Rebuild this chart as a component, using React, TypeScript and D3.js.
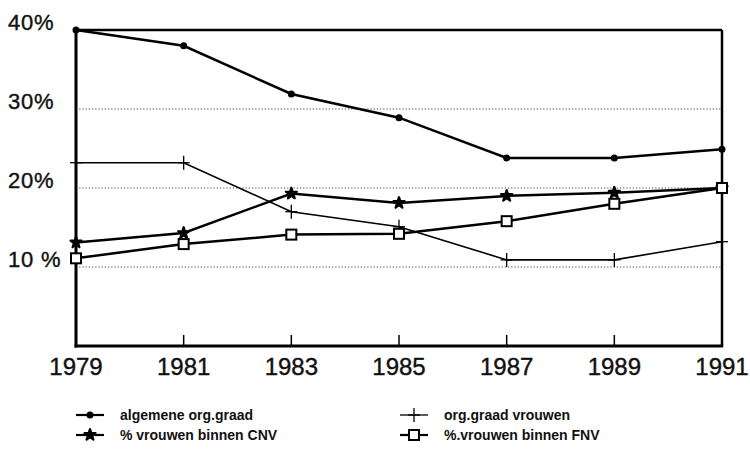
import React, { useEffect, useRef } from "react";
import * as d3 from "d3";

// years on the x axis
const years = [1979, 1981, 1983, 1985, 1987, 1989, 1991];

// percentages per series
const algemeneOrgGraad = [40.0, 38.0, 31.9, 28.9, 23.8, 23.8, 24.9];
const orgGraadVrouwen = [23.2, 23.2, 17.0, 15.1, 10.9, 10.9, 13.2];
const vrouwenCNV = [13.1, 14.3, 19.3, 18.1, 19.0, 19.4, 20.0];
const vrouwenFNV = [11.1, 12.9, 14.1, 14.2, 15.8, 18.0, 20.0];

const yTicks = [10, 20, 30, 40];
const yTickLabels = ["10 %", "20%", "30%", "40%"];

const seriesNames = [
    "algemene org.graad",
    "org.graad vrouwen",
    "% vrouwen binnen CNV",
    "%.vrouwen binnen FNV",
];
const seriesMarkers = ["dot", "cross", "star", "square"];

const width = 750;
const height = 450;

function drawMarker(g, type, x, y) {
    if (type === "dot") {
        g.append("circle").attr("cx", x).attr("cy", y).attr("r", 3.5).attr("fill", "#000");
    } else if (type === "cross") {
        g.append("line").attr("x1", x - 6).attr("x2", x + 6).attr("y1", y).attr("y2", y)
            .attr("stroke", "#000").attr("stroke-width", 1.3);
        g.append("line").attr("x1", x).attr("x2", x).attr("y1", y - 7).attr("y2", y + 7)
            .attr("stroke", "#000").attr("stroke-width", 1.3);
    } else if (type === "star") {
        g.append("path")
            .attr("d", d3.symbol().type(d3.symbolStar).size(38)())
            .attr("transform", `translate(${x},${y})`)
            .attr("fill", "#000")
            .attr("stroke", "#000")
            .attr("stroke-width", 2.2)
            .attr("stroke-linejoin", "round");
    } else if (type === "square") {
        g.append("rect").attr("x", x - 5).attr("y", y - 5).attr("width", 10).attr("height", 10)
            .attr("fill", "#fff").attr("stroke", "#000").attr("stroke-width", 2);
    }
}

function App() {
    const ref = useRef(null);

    useEffect(() => {
        const svg = d3.select(ref.current);
        svg.selectAll("*").remove();

        const left = 76, right = 722, top = 30, bottom = 346;

        const x = d3.scaleLinear().domain([1979, 1991]).range([left, right]);
        const y = d3.scaleLinear().domain([0, 40]).range([bottom, top]);

        svg.append("rect").attr("width", width).attr("height", height).attr("fill", "#fff");

        // dotted gridlines
        svg.append("g")
            .selectAll("line")
            .data(yTicks.filter(t => t < 40))
            .join("line")
            .attr("x1", left)
            .attr("x2", right)
            .attr("y1", d => y(d))
            .attr("y2", d => y(d))
            .attr("stroke", "#444")
            .attr("stroke-width", 1)
            .attr("stroke-dasharray", "1.2,2");

        // frame
        svg.append("line").attr("x1", left).attr("x2", right).attr("y1", top).attr("y2", top)
            .attr("stroke", "#000").attr("stroke-width", 2.5);
        svg.append("line").attr("x1", right).attr("x2", right).attr("y1", top).attr("y2", bottom)
            .attr("stroke", "#000").attr("stroke-width", 2.5);
        svg.append("line").attr("x1", left).attr("x2", left).attr("y1", top - 1).attr("y2", bottom + 1.5)
            .attr("stroke", "#000").attr("stroke-width", 3);
        svg.append("line").attr("x1", left - 1.5).attr("x2", right + 1.2).attr("y1", bottom).attr("y2", bottom)
            .attr("stroke", "#000").attr("stroke-width", 3);

        // x ticks (pointing inward)
        svg.append("g")
            .selectAll("line")
            .data(years.slice(1, -1))
            .join("line")
            .attr("x1", d => x(d))
            .attr("x2", d => x(d))
            .attr("y1", bottom)
            .attr("y2", bottom - 11)
            .attr("stroke", "#000")
            .attr("stroke-width", 1.5);

        // y labels
        svg.append("g")
            .selectAll("text")
            .data(yTicks)
            .join("text")
            .attr("x", 8)
            .attr("y", d => y(d))
            .attr("font-family", "Liberation Sans, Arial, sans-serif")
            .attr("font-size", 22)
            .attr("letter-spacing", 0.8)
            .attr("fill", "#111")
            .attr("stroke", "#111")
            .attr("stroke-width", 0.4)
            .text((d, i) => yTickLabels[i]);

        // x labels
        svg.append("g")
            .selectAll("text")
            .data(years)
            .join("text")
            .attr("x", d => x(d))
            .attr("y", 375)
            .attr("text-anchor", "middle")
            .attr("font-family", "Liberation Sans, Arial, sans-serif")
            .attr("font-size", 24)
            .attr("fill", "#111")
            .attr("stroke", "#111")
            .attr("stroke-width", 0.4)
            .text(d => d);

        const allSeries = [algemeneOrgGraad, orgGraadVrouwen, vrouwenCNV, vrouwenFNV];
        const line = d3.line()
            .x((_, i) => x(years[i]))
            .y(d => y(d));

        allSeries.forEach((values, s) => {
            svg.append("path")
                .datum(values)
                .attr("fill", "none")
                .attr("stroke", "#000")
                .attr("stroke-width", s === 1 ? 1.6 : 2.5)
                .attr("d", line);
        });
        allSeries.forEach((values, s) => {
            const g = svg.append("g");
            values.forEach((v, i) => drawMarker(g, seriesMarkers[s], x(years[i]), y(v)));
        });

        // legend
        const legendPos = [
            { lx: 76, ly: 415 },
            { lx: 400, ly: 415 },
            { lx: 76, ly: 435 },
            { lx: 400, ly: 435 },
        ];
        seriesNames.forEach((name, s) => {
            const { lx, ly } = legendPos[s];
            const g = svg.append("g");
            g.append("line").attr("x1", lx).attr("x2", lx + 28).attr("y1", ly).attr("y2", ly)
                .attr("stroke", "#000").attr("stroke-width", s === 1 ? 1.3 : 2.2);
            drawMarker(g, seriesMarkers[s], lx + 14, ly);
            g.append("text")
                .attr("x", lx + 44)
                .attr("y", ly + 5)
                .attr("font-family", "Liberation Sans, Arial, sans-serif")
                .attr("font-size", 14)
                .attr("font-weight", "bold")
                .attr("fill", "#111")
                .text(name);
        });
    }, []);

    return (
        <svg ref={ref} width={width} height={height}
            style={{ position: "absolute", left: 0, top: 0, display: "block" }}></svg>
    );
}

export default App;
